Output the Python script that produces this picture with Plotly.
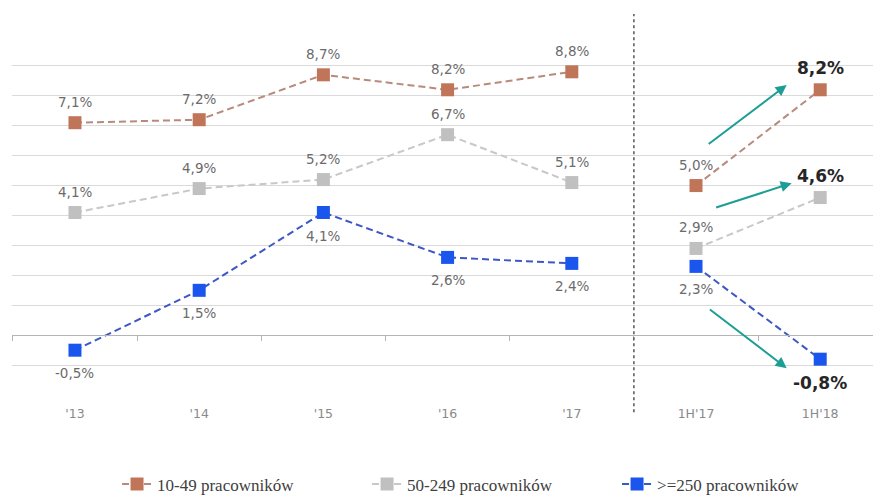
import plotly.graph_objects as go

categories = ["'13", "'14", "'15", "'16", "'17", "1H'17", "1H'18"]
small = [7.1, 7.2, 8.7, 8.2, 8.8, 5.0, 8.2]        # 10-49 pracowników
medium = [4.1, 4.9, 5.2, 6.7, 5.1, 2.9, 4.6]       # 50-249 pracowników
large = [-0.5, 1.5, 4.1, 2.6, 2.4, 2.3, -0.8]      # >=250 pracowników
series_names = ["10-49 pracowników", "50-249 pracowników", ">=250 pracowników"]
label_side = [
    ["top"] * 7,
    ["top"] * 7,
    ["bottom"] * 7,
]
n_annual = 5  # first 5 categories are full years, the rest are half-years
# arrows: (start x, start value, end x, end value)
arrows = [
    (5.09, 6.35, 5.73, 8.36),
    (5.15, 4.25, 5.77, 5.08),
    (5.10, 0.90, 5.73, -1.10),
]

marker_colors = ["#c07458", "#c0c0c0", "#1a55ee"]
line_colors = ["#b88a7c", "#c8c8c8", "#3d57c4"]

fig = go.Figure()
all_series = [small, medium, large]
for vals, name, mc, lc in zip(all_series, series_names, marker_colors, line_colors):
    for part, (xs, ys) in enumerate([(categories[:n_annual], vals[:n_annual]),
                                     (categories[n_annual:], vals[n_annual:])]):
        fig.add_trace(go.Scatter(
            x=xs, y=ys, name=name, mode="lines+markers",
            legendgroup=name, showlegend=(part == 0),
            line=dict(color=lc, width=2, dash="7px,4px"),
            marker=dict(symbol="square", size=13, color=mc),
            cliponaxis=False,
        ))

def fmt(v):
    return f"{v:.1f}".replace(".", ",") + "%"

annotations = []
for vals, sides in zip(all_series, label_side):
    n = len(vals)
    for i, (c, v, s) in enumerate(zip(categories, vals, sides)):
        last = i == n - 1
        if last:
            annotations.append(dict(
                x=c, y=v, xref="x", yref="y", text=fmt(v), showarrow=False,
                font=dict(family="DejaVu Sans", size=17, color="#262626", weight="bold"),
                yshift=22 if s == "top" else -24,
            ))
        else:
            annotations.append(dict(
                x=c, y=v, xref="x", yref="y", text=fmt(v), showarrow=False,
                font=dict(family="DejaVu Sans", size=13.5, color="#6b6b6b"),
                yshift=21 if s == "top" else -23,
            ))

for x0, y0, x1, y1 in arrows:
    annotations.append(dict(
        x=x1, y=y1, ax=x0, ay=y0, xref="x", yref="y", axref="x", ayref="y",
        text="", showarrow=True, arrowhead=2, arrowsize=1.1, arrowwidth=2,
        arrowcolor="#1d9e94",
    ))

fig.update_layout(
    width=873, height=497,
    margin=dict(l=12, r=0, t=35, b=101, autoexpand=False),
    paper_bgcolor="white", plot_bgcolor="white",
    showlegend=True,
    legend=dict(
        orientation="h", x=0.122, xanchor="left", y=-0.245, yanchor="middle",
        font=dict(family="Liberation Serif", size=17, color="#404040"),
        entrywidth=205, entrywidthmode="pixels",
    ),
    annotations=annotations,
    xaxis=dict(
        type="category", range=[-0.507, 6.425],
        showgrid=False, zeroline=False, showline=False,
        ticks="", tickfont=dict(family="DejaVu Sans", size=12.5, color="#8a8a8a"),
        ticklabelstandoff=8,
    ),
    xaxis2=dict(
        type="linear", range=[-0.507, 6.425], overlaying="x", anchor="free",
        position=2.03 / 12.06, showgrid=False, zeroline=False, showline=True,
        linecolor="#b5b5b5", linewidth=1, ticks="outside", ticklen=5,
        tickcolor="#b5b5b5", tickvals=[-0.5, 0.5, 1.5, 2.5, 3.5, 4.5, 5.5],
        showticklabels=False,
    ),
    yaxis=dict(
        range=[-2.03, 10.03], tick0=0, dtick=1, showgrid=True, gridcolor="#dadada", gridwidth=1,
        zeroline=False, showticklabels=False, ticks="", showline=False,
    ),
    shapes=[dict(
        type="line", xref="x", yref="paper", x0=4.5, x1=4.5, y0=-0.045, y1=1.058,
        line=dict(color="#555555", width=1.5, dash="dot"),
    )],
)
# invisible trace to activate xaxis2 (the zero baseline with category ticks)
fig.add_trace(go.Scatter(x=[0], y=[0], xaxis="x2", mode="markers",
                         marker=dict(opacity=0), showlegend=False, hoverinfo="skip"))

fig.write_html("out.html")
